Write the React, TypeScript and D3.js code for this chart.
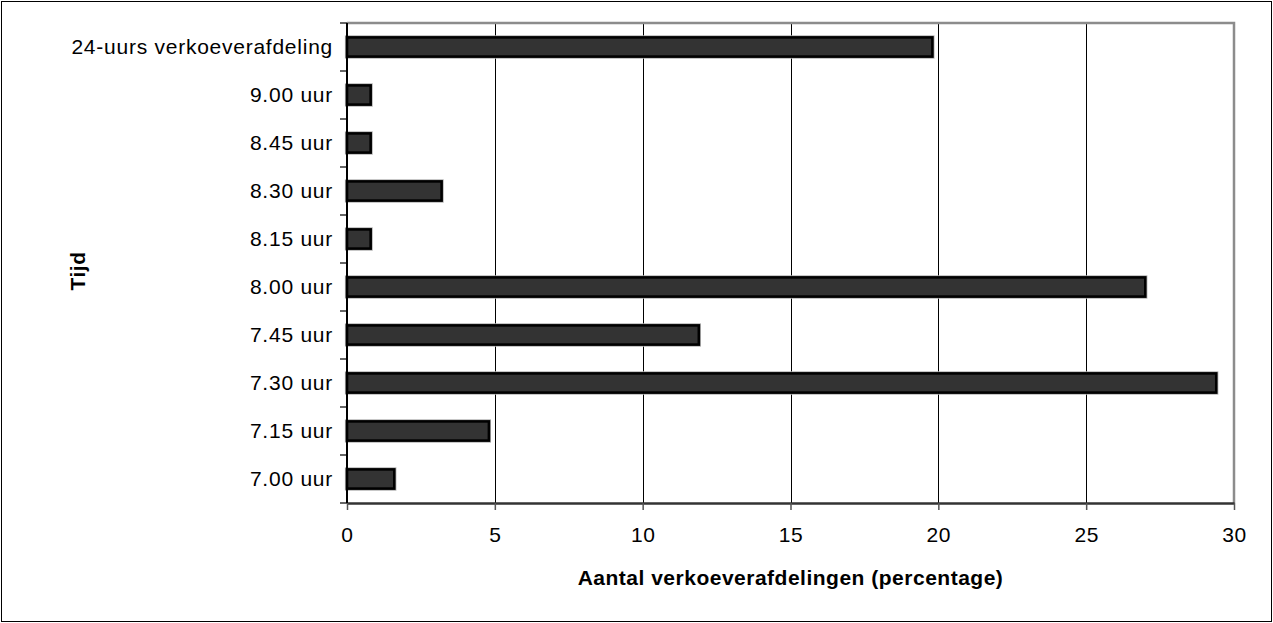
import React, { useEffect, useRef } from "react";
import * as d3 from "d3";

// Share of recovery wards per start time (percent)
const categories = [
  "24-uurs verkoeverafdeling",
  "9.00 uur",
  "8.45 uur",
  "8.30 uur",
  "8.15 uur",
  "8.00 uur",
  "7.45 uur",
  "7.30 uur",
  "7.15 uur",
  "7.00 uur",
];
const percentages = [19.8, 0.8, 0.8, 3.2, 0.8, 27.0, 11.9, 29.4, 4.8, 1.6];
const xTicks = [0, 5, 10, 15, 20, 25, 30];

const xTitle = "Aantal verkoeverafdelingen (percentage)";
const yTitle = "Tijd";

const W = 1273;
const H = 623;
const plot = { left: 347, right: 1234, top: 23, bottom: 503 };
const FONT = "'Liberation Sans', Arial, Helvetica, sans-serif";

export default function App() {
  const ref = useRef<SVGSVGElement>(null);

  useEffect(() => {
    const svg = d3.select(ref.current);
    svg.selectAll("*").remove();

    const x = d3.scaleLinear().domain([0, 30]).range([plot.left, plot.right]);
    const y = d3
      .scaleBand<string>()
      .domain(categories)
      .range([plot.top, plot.bottom])
      .paddingInner(0.6)
      .paddingOuter(0.3);

    // outer frame
    svg
      .append("rect")
      .attr("x", 1.5)
      .attr("y", 1.5)
      .attr("width", W - 3)
      .attr("height", H - 3)
      .attr("fill", "#fff")
      .attr("stroke", "#000")
      .attr("stroke-width", 1);

    // vertical gridlines
    svg
      .append("g")
      .selectAll("line")
      .data(xTicks.filter((t) => t > 0 && t < 30))
      .join("line")
      .attr("x1", (d) => Math.round(x(d)) + 0.5)
      .attr("x2", (d) => Math.round(x(d)) + 0.5)
      .attr("y1", plot.top)
      .attr("y2", plot.bottom)
      .attr("stroke", "#000")
      .attr("stroke-width", 1);

    // plot frame: top and right edges in grey
    svg
      .append("path")
      .attr("d", `M${plot.left},${plot.top}H${plot.right}V${plot.bottom}`)
      .attr("fill", "none")
      .attr("stroke", "#8c8c8c")
      .attr("stroke-width", 2.5);

    // bars
    const bars = svg.append("g");
    bars
      .selectAll("rect.halo")
      .data(categories)
      .join("rect")
      .attr("class", "halo")
      .attr("x", x(0))
      .attr("y", (d) => y(d)!)
      .attr("width", (d, i) => x(percentages[i]) - x(0))
      .attr("height", y.bandwidth())
      .attr("fill", "none")
      .attr("stroke", "#b0b0b0")
      .attr("stroke-width", 4.2);
    bars
      .selectAll("rect.bar")
      .data(categories)
      .join("rect")
      .attr("class", "bar")
      .attr("x", x(0))
      .attr("y", (d) => y(d)!)
      .attr("width", (d, i) => x(percentages[i]) - x(0))
      .attr("height", y.bandwidth())
      .attr("fill", "#333333")
      .attr("stroke", "#000")
      .attr("stroke-width", 2.6);

    // x axis
    const xAxis = d3
      .axisBottom(x)
      .tickValues(xTicks)
      .tickSizeInner(7)
      .tickSizeOuter(0)
      .tickPadding(17)
      .tickFormat(d3.format("d"));
    const gx = svg
      .append("g")
      .attr("transform", `translate(0,${plot.bottom})`)
      .call(xAxis);
    gx.select(".domain").attr("stroke", "#333").attr("stroke-width", 2.5);
    gx.selectAll(".tick line").attr("stroke", "#555").attr("stroke-width", 1.5);
    gx.selectAll(".tick text")
      .attr("font-family", FONT)
      .attr("font-size", 21)
      .attr("letter-spacing", 0.6)
      .attr("fill", "#000");

    // y axis: ticks sit on band boundaries
    const boundaries = d3
      .range(categories.length + 1)
      .map((i) => plot.top + i * y.step());
    const gy = svg.append("g");
    gy.selectAll("line.tick")
      .data(boundaries)
      .join("line")
      .attr("class", "tick")
      .attr("x1", plot.left - 7)
      .attr("x2", plot.left)
      .attr("y1", (d) => d)
      .attr("y2", (d) => d)
      .attr("stroke", "#333")
      .attr("stroke-width", 1.5);
    gy.append("line")
      .attr("x1", plot.left)
      .attr("x2", plot.left)
      .attr("y1", plot.top)
      .attr("y2", plot.bottom)
      .attr("stroke", "#000")
      .attr("stroke-width", 2);
    gy.selectAll("text")
      .data(categories)
      .join("text")
      .attr("x", plot.left - 14)
      .attr("y", (d) => y(d)! + y.bandwidth() / 2)
      .attr("dy", "0.35em")
      .attr("text-anchor", "end")
      .attr("font-family", FONT)
      .attr("font-size", 21)
      .attr("letter-spacing", 0.75)
      .attr("fill", "#000")
      .text((d) => d);

    // axis titles
    svg
      .append("text")
      .attr("x", (plot.left + plot.right) / 2)
      .attr("y", 585)
      .attr("text-anchor", "middle")
      .attr("font-family", FONT)
      .attr("font-size", 21)
      .attr("letter-spacing", 0.5)
      .attr("font-weight", "bold")
      .attr("fill", "#000")
      .text(xTitle);

    svg
      .append("text")
      .attr(
        "transform",
        `translate(85,${(plot.top + plot.bottom) / 2 + 8}) rotate(-90)`
      )
      .attr("text-anchor", "middle")
      .attr("font-family", FONT)
      .attr("font-size", 21)
      .attr("letter-spacing", 0.5)
      .attr("font-weight", "bold")
      .attr("fill", "#000")
      .text(yTitle);
  }, []);

  return (
    <svg
      ref={ref}
      width={W}
      height={H}
      style={{ position: "absolute", left: 0, top: 0, display: "block" }}
    />
  );
}
